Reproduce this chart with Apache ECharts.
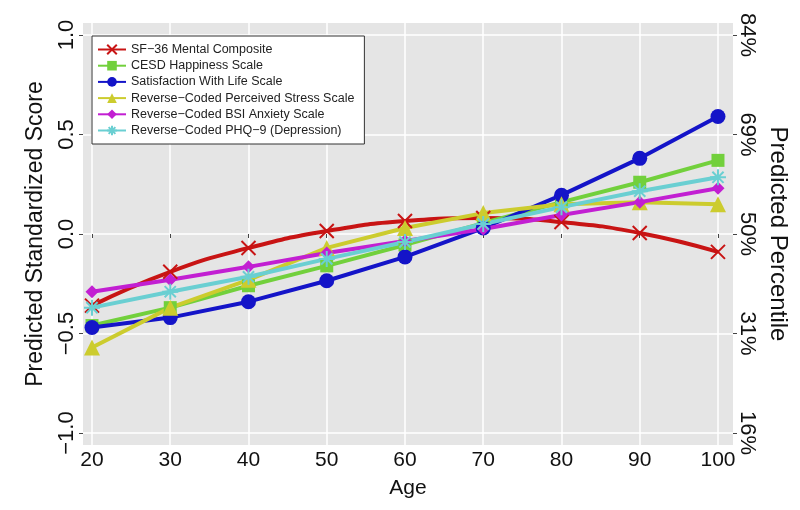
<!DOCTYPE html>
<html>
<head>
<meta charset="UTF-8">
<title>Predicted Standardized Score by Age</title>
<script src="https://cdn.jsdelivr.net/npm/echarts@6/dist/echarts.min.js"></script>
<style>
  html, body { margin: 0; padding: 0; background: #fff; }
  #chart { width: 800px; height: 510px; }
</style>
</head>
<body>
<div id="chart"></div>
<script type="text/javascript">
// ages on x axis
var ages = [20, 30, 40, 50, 60, 70, 80, 90, 100];

// series values
var sf36 = [-0.36, -0.19, -0.07, 0.015, 0.065, 0.08, 0.06, 0.005, -0.09];
var cesd = [-0.46, -0.37, -0.26, -0.16, -0.055, 0.055, 0.16, 0.26, 0.37];
var swls = [-0.47, -0.42, -0.34, -0.235, -0.115, 0.03, 0.195, 0.38, 0.59];
var pss = [-0.57, -0.37, -0.23, -0.07, 0.03, 0.105, 0.15, 0.16, 0.15];
var bsi = [-0.29, -0.23, -0.165, -0.095, -0.035, 0.025, 0.095, 0.16, 0.23];
var phq = [-0.37, -0.29, -0.215, -0.125, -0.04, 0.05, 0.135, 0.215, 0.285];

// tick labels
var yTicks = [-1, -0.5, 0, 0.5, 1];
var yTickLabels = ['\u22121.0', '\u22120.5', '0.0', '0.5', '1.0'];
var pctLabels = ['16%', '31%', '50%', '69%', '84%'];

var names = [
	'SF\u221236 Mental Composite',
	'CESD Happiness Scale',
	'Satisfaction With Life Scale',
	'Reverse\u2212Coded Perceived Stress Scale',
	'Reverse\u2212Coded BSI Anxiety Scale',
	'Reverse\u2212Coded PHQ\u22129 (Depression)'
];

function pairs(vals) {
	return ages.map(function(a, i) { return [a, vals[i]]; });
}

function tickIndex(v) {
	for (var i = 0; i < yTicks.length; i++) {
		if (Math.abs(yTicks[i] - v) < 1e-6) return i;
	}
	return -1;
}

var crossPath = 'path://M0,0L10,10M10,0L0,10';
var starPath = 'path://M5,0L5,10M0,5L10,5M1.5,1.5L8.5,8.5M8.5,1.5L1.5,8.5';

function mkSeries(name, vals, color, symbol, size, stroked, smooth) {
	return {
		name: name,
		type: 'line',
		data: pairs(vals),
		smooth: smooth ? 0.5 : false,
		symbol: symbol,
		symbolSize: size,
		showSymbol: true,
		lineStyle: { color: color, width: 4 },
		itemStyle: stroked ?
			{ color: color, borderColor: color, borderWidth: 2 } :
			{ color: color, borderWidth: 0 },
		emphasis: { disabled: true }
	};
}

var dom = document.getElementById('chart');
var myChart = echarts.init(dom);
var font = 'Liberation Sans, Arial, Helvetica, sans-serif';

var option = {
	animation: false,
	textStyle: { fontFamily: font },
	grid: {
		left: 83,
		top: 23,
		width: 650,
		height: 422,
		show: true,
		backgroundColor: '#E5E5E5',
		borderWidth: 0
	},
	legend: {
		orient: 'vertical',
		left: 92,
		top: 36,
		backgroundColor: '#fff',
		borderColor: '#333',
		borderWidth: 1,
		borderRadius: 0,
		padding: [7, 10, 7, 5],
		itemWidth: 28,
		itemHeight: 12,
		itemGap: 3.2,
		textStyle: { fontSize: 12.5, color: '#222', fontFamily: font },
		data: names
	},
	xAxis: {
		type: 'value',
		min: 18.85,
		max: 101.92,
		name: 'Age',
		nameLocation: 'middle',
		nameGap: 33,
		nameTextStyle: { fontSize: 21, color: '#111' },
		axisLine: { show: false },
		axisTick: { show: true, customValues: ages, length: 4, lineStyle: { color: '#444' } },
		axisLabel: { customValues: ages, fontSize: 21, color: '#111', margin: 5 },
		splitLine: { show: true, lineStyle: { color: '#fff', width: 1.5 } }
	},
	yAxis: [{
		type: 'value',
		min: -1.06,
		max: 1.06,
		name: 'Predicted Standardized Score',
		nameLocation: 'middle',
		nameGap: 36,
		nameTextStyle: { fontSize: 23, color: '#111' },
		axisLine: { show: false },
		axisTick: { show: true, customValues: yTicks, length: 4, lineStyle: { color: '#444' } },
		axisLabel: {
			customValues: yTicks,
			rotate: 90,
			fontSize: 22,
			color: '#111',
			margin: 5,
			formatter: function(v) { return yTickLabels[tickIndex(v)]; }
		},
		splitLine: { show: true, lineStyle: { color: '#fff', width: 1.5 } }
	}, {
		type: 'value',
		position: 'right',
		min: -1.06,
		max: 1.06,
		name: 'Predicted Percentile',
		nameLocation: 'middle',
		nameRotate: -90,
		nameGap: 20,
		nameTextStyle: { fontSize: 24, color: '#111' },
		axisLine: { show: false },
		axisTick: { show: true, customValues: yTicks, length: 4, lineStyle: { color: '#444' } },
		axisLabel: {
			customValues: yTicks,
			rotate: -90,
			fontSize: 22,
			color: '#111',
			margin: 3,
			formatter: function(v) { return pctLabels[tickIndex(v)]; }
		},
		splitLine: { show: false }
	}],
	series: [
		mkSeries(names[0], sf36, '#C81414', crossPath, 14, true, true),
		mkSeries(names[1], cesd, '#72D03C', 'rect', 13, false, false),
		mkSeries(names[2], swls, '#1414C8', 'circle', 15, false, false),
		mkSeries(names[3], pss, '#CCCC2E', 'triangle', 16, false, false),
		mkSeries(names[4], bsi, '#C21FD2', 'diamond', 13, false, false),
		mkSeries(names[5], phq, '#6ACFD2', starPath, 16, true, false)
	]
};

if (option && typeof option === 'object') {
	myChart.setOption(option, true);
}
</script>
</body>
</html>
